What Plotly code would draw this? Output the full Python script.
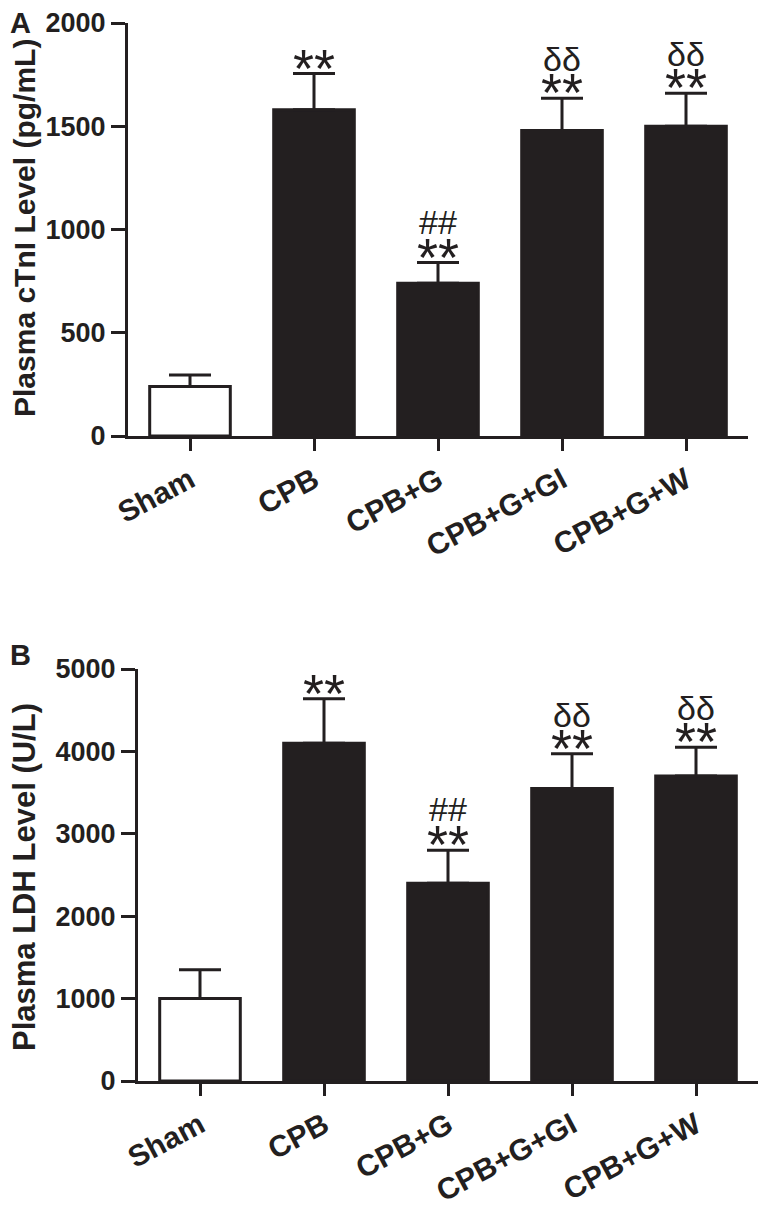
import plotly.graph_objects as go

categories = ["Sham", "CPB", "CPB+G", "CPB+G+GI", "CPB+G+W"]
ctni_mean = [240, 1580, 740, 1480, 1500]
ctni_err = [55, 175, 100, 155, 160]
ldh_mean = [1000, 4100, 2400, 3550, 3700]
ldh_err = [350, 540, 400, 420, 350]
sig_star = ["", "**", "**", "**", "**"]
sig_upper = ["", "", "##", "δδ", "δδ"]
ctni_ticks = [0, 500, 1000, 1500, 2000]
ldh_ticks = [0, 1000, 2000, 3000, 4000, 5000]

DARK = "#231F20"
FONT = "Liberation Sans, Arial, sans-serif"
bar_colors = ["white", DARK, DARK, DARK, DARK]

# page body has an 8px margin; figure is sized to fill the rest of the 766x1214 window
OFF = 8
W, H = 766 - OFF, 1214 - OFF


def px(vx):
    return max(vx - OFF, 0) / W


def py(vy):
    return 1 - max(vy - OFF, 0) / H


fig = go.Figure()

for mean, err, xa, ya in [(ctni_mean, ctni_err, "x", "y"), (ldh_mean, ldh_err, "x2", "y2")]:
    fig.add_trace(go.Bar(
        x=categories, y=mean, xaxis=xa, yaxis=ya,
        width=0.65,
        marker=dict(color=bar_colors, line=dict(color=DARK, width=3)),
        error_y=dict(type="data", symmetric=False, array=err,
                     arrayminus=[0] * len(err), color=DARK, thickness=3, width=21),
        showlegend=False, hoverinfo="skip",
    ))

annotations = []
for mean, err, xr, yr in [(ctni_mean, ctni_err, "x", "y"), (ldh_mean, ldh_err, "x2", "y2")]:
    for cat, m, e, s, u in zip(categories, mean, err, sig_star, sig_upper):
        top = m + e
        if s:
            annotations.append(dict(x=cat, y=top, xref=xr, yref=yr, text=s, showarrow=False,
                                     yanchor="bottom", yshift=-26,
                                     font=dict(family=FONT, size=54, color=DARK)))
        if u:
            annotations.append(dict(x=cat, y=top, xref=xr, yref=yr, text=u, showarrow=False,
                                     yanchor="bottom", yshift=18 if u == "δδ" else 20,
                                     font=dict(family=FONT, size=34, color=DARK)))

# panel letters
annotations.append(dict(x=px(8), y=1, xref="paper", yref="paper", text="<b>A</b>",
                        showarrow=False, xanchor="left", yanchor="top", yshift=3,
                        font=dict(family=FONT, size=29, color=DARK)))
annotations.append(dict(x=px(5), y=py(642), xref="paper", yref="paper", text="<b>B</b>",
                        showarrow=False, xanchor="left", yanchor="top", yshift=5,
                        font=dict(family=FONT, size=29, color=DARK)))
# y-axis titles
annotations.append(dict(x=px(24), y=py(228), xref="paper", yref="paper",
                        text="<b>Plasma cTnI Level (pg/mL)</b>", textangle=-90,
                        showarrow=False, xanchor="center", yanchor="middle",
                        font=dict(family=FONT, size=30, color=DARK)))
annotations.append(dict(x=px(24), y=py(877), xref="paper", yref="paper",
                        text="<b>Plasma LDH Level (U/L)</b>", textangle=-90,
                        showarrow=False, xanchor="center", yanchor="middle",
                        font=dict(family=FONT, size=31, color=DARK)))

xaxis_common = dict(
    type="category", range=[-0.5, 4.5], showline=True, linewidth=3, linecolor=DARK,
    ticks="outside", ticklen=12, tickwidth=3, tickcolor=DARK, tickangle=-28,
    tickfont=dict(family=FONT, size=30, color=DARK), showgrid=False, zeroline=False,
    fixedrange=True, automargin=False, ticklabeloverflow="allow",
)
yaxis_common = dict(
    showline=True, linewidth=3, linecolor=DARK, ticks="outside", ticklen=14, tickwidth=3,
    tickcolor=DARK, tickfont=dict(family=FONT, size=27, color=DARK), showgrid=False,
    zeroline=False, fixedrange=True, automargin=False, ticklabeloverflow="allow",
)

fig.update_layout(
    template="none",
    width=W, height=H, margin=dict(l=0, r=0, t=0, b=0, pad=0, autoexpand=False),
    paper_bgcolor="white", plot_bgcolor="white", showlegend=False,
    xaxis=dict(xaxis_common, domain=[px(128), px(748)], anchor="y"),
    yaxis=dict(yaxis_common, domain=[py(436), py(23)], range=[0, 2000],
               tickvals=ctni_ticks, ticktext=[f"<b>{v}</b>" for v in ctni_ticks], anchor="x"),
    xaxis2=dict(xaxis_common, domain=[px(138), px(758)], anchor="y2"),
    yaxis2=dict(yaxis_common, domain=[py(1081), py(669)], range=[0, 5000],
                tickvals=ldh_ticks, ticktext=[f"<b>{v}</b>" for v in ldh_ticks], anchor="x2"),
    annotations=annotations,
)
fig.update_xaxes(tickvals=categories, ticktext=[f"<b>{c}</b>" for c in categories])

fig.write_html("out.html")
